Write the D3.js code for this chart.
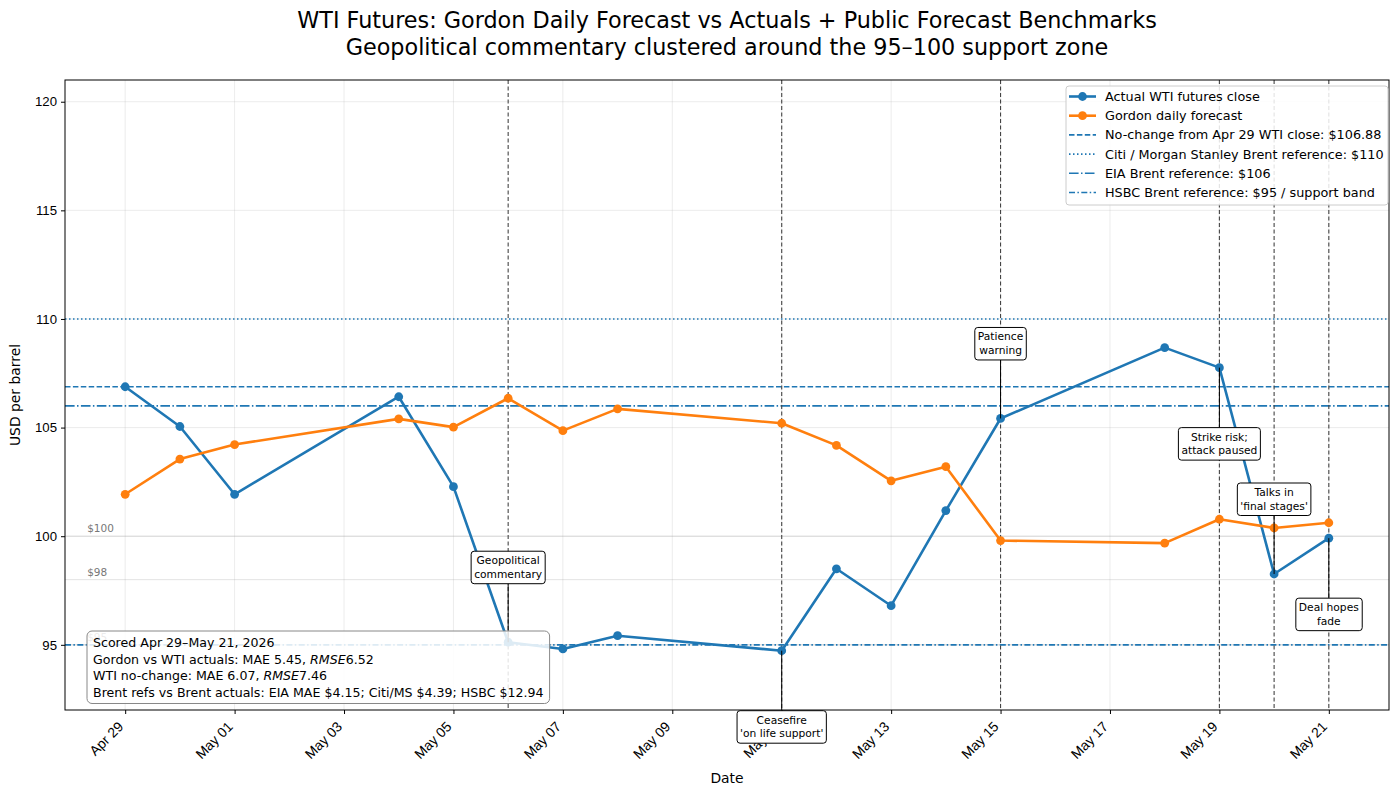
<!DOCTYPE html>
<html>
<head>
<meta charset="utf-8">
<script src="https://cdn.jsdelivr.net/npm/d3@7"></script>
<style>
  body { margin: 0; background: #fff; }
  svg { font-family: "DejaVu Sans", sans-serif; }
</style>
</head>
<body>
<svg id="chart" width="1400" height="795"></svg>
<script>
// trading days scored
const dates = ["2026-04-29","2026-04-30","2026-05-01","2026-05-04","2026-05-05","2026-05-06",
  "2026-05-07","2026-05-08","2026-05-11","2026-05-12","2026-05-13","2026-05-14","2026-05-15",
  "2026-05-18","2026-05-19","2026-05-20","2026-05-21"];

const actual = [106.88, 105.05, 101.93, 106.42, 102.28, 95.12, 94.81, 95.42, 94.73,
  98.50, 96.80, 101.18, 105.42, 108.68, 107.76, 98.26, 99.91];

const forecast = [101.93, 103.55, 104.22, 105.40, 105.02, 106.35, 104.86, 105.86, 105.20,
  104.18, 102.55, 103.20, 99.80, 99.68, 100.78, 100.38, 100.62];

const refLines = [
  {label: "No-change from Apr 29 WTI close: $106.88", value: 106.88, dash: "5.5,2.4"},
  {label: "Citi / Morgan Stanley Brent reference: $110", value: 110, dash: "1.5,2.5"},
  {label: "EIA Brent reference: $106", value: 106, dash: "9.6,2.4,1.5,2.4"},
  {label: "HSBC Brent reference: $95 / support band", value: 95, dash: "6,2.4,1.5,2.4"}
];

const bandLevels = [100, 98, 95];

const events = [
  {date: "2026-05-06", label: ["Geopolitical", "commentary"]},
  {date: "2026-05-11", label: ["Ceasefire", "'on life support'"]},
  {date: "2026-05-15", label: ["Patience", "warning"]},
  {date: "2026-05-19", label: ["Strike risk;", "attack paused"]},
  {date: "2026-05-20", label: ["Talks in", "'final stages'"]},
  {date: "2026-05-21", label: ["Deal hopes", "fade"]}
];

const xTicks = ["2026-04-29","2026-05-01","2026-05-03","2026-05-05","2026-05-07","2026-05-09",
  "2026-05-11","2026-05-13","2026-05-15","2026-05-17","2026-05-19","2026-05-21"];
const yTicks = [95, 100, 105, 110, 115, 120];

const scoreLines = [
  [["Scored Apr 29\u2013May 21, 2026", false]],
  [["Gordon vs WTI actuals: MAE 5.45, ", false], ["RMSE", true], ["6.52", false]],
  [["WTI no-change: MAE 6.07, ", false], ["RMSE", true], ["7.46", false]],
  [["Brent refs vs Brent actuals: EIA MAE $4.15; Citi/MS $4.39; HSBC $12.94", false]]
];

const parse = d3.utcParse("%Y-%m-%d");
const series = dates.map((d, i) => ({date: parse(d), actual: actual[i], forecast: forecast[i]}));
const blue = "#1f77b4", orange = "#ff7f0e";

const svg = d3.select("#chart"),
      margin = {top: 80, right: 11, bottom: 85, left: 65},
      width = +svg.attr("width") - margin.left - margin.right,
      height = +svg.attr("height") - margin.top - margin.bottom;

const day = 864e5;
const x = d3.scaleUtc()
  .domain([new Date(+parse(dates[0]) - 1.1 * day), new Date(+parse(dates[dates.length - 1]) + 1.1 * day)])
  .range([margin.left, margin.left + width]);
const y = d3.scaleLinear()
  .domain([92, 121])
  .range([margin.top + height, margin.top]);

const g = svg.append("g");

// grid
g.append("g").selectAll("line").data(xTicks).enter().append("line")
  .attr("x1", d => x(parse(d))).attr("x2", d => x(parse(d)))
  .attr("y1", margin.top).attr("y2", margin.top + height)
  .attr("stroke", "#b0b0b0").attr("stroke-opacity", 0.3).attr("stroke-width", 0.8);
g.append("g").selectAll("line").data(yTicks).enter().append("line")
  .attr("x1", margin.left).attr("x2", margin.left + width)
  .attr("y1", d => y(d)).attr("y2", d => y(d))
  .attr("stroke", "#b0b0b0").attr("stroke-opacity", 0.3).attr("stroke-width", 0.8);

// support band guides
g.append("g").selectAll("line").data(bandLevels).enter().append("line")
  .attr("x1", margin.left).attr("x2", margin.left + width)
  .attr("y1", d => y(d)).attr("y2", d => y(d))
  .attr("stroke", "#999").attr("stroke-opacity", 0.35).attr("stroke-width", 0.8);
g.append("g").selectAll("text").data(bandLevels).enter().append("text")
  .attr("x", x(parse(dates[0])) - 38)
  .attr("y", d => y(d) - 4)
  .attr("fill", "#777")
  .style("font-size", "10.5px")
  .text(d => "$" + d);

// benchmark lines
g.append("g").selectAll("line").data(refLines).enter().append("line")
  .attr("x1", margin.left).attr("x2", margin.left + width)
  .attr("y1", d => y(d.value)).attr("y2", d => y(d.value))
  .attr("stroke", blue).attr("stroke-width", 1.6)
  .attr("stroke-dasharray", d => d.dash);

// event markers
g.append("g").selectAll("line").data(events).enter().append("line")
  .attr("x1", d => x(parse(d.date))).attr("x2", d => x(parse(d.date)))
  .attr("y1", margin.top).attr("y2", margin.top + height)
  .attr("stroke", "#444").attr("stroke-width", 1.1)
  .attr("stroke-dasharray", "4,2.5");

// series
const line = key => d3.line().x(d => x(d.date)).y(d => y(d[key]));
[["actual", blue], ["forecast", orange]].forEach(([key, color]) => {
  g.append("path").datum(series)
    .attr("fill", "none").attr("stroke", color).attr("stroke-width", 2.6)
    .attr("stroke-linejoin", "round")
    .attr("d", line(key));
  g.append("g").selectAll("circle").data(series).enter().append("circle")
    .attr("cx", d => x(d.date)).attr("cy", d => y(d[key]))
    .attr("r", 4.4).attr("fill", color);
});

// annotations
const byDate = new Map(series.map(d => [+d.date, d]));
const ann = g.append("g");
events.forEach((ev, i) => {
  const pt = byDate.get(+parse(ev.date));
  const px = x(pt.date), py = y(pt.actual);
  const off = i % 2 === 0 ? -75 : 76;
  const cy = py + off;
  const lh = 13.5;
  const grp = ann.append("g");
  const txt = grp.append("text")
    .attr("text-anchor", "middle")
    .style("font-size", "10.7px");
  ev.label.forEach((s, j) => {
    txt.append("tspan").attr("x", px).attr("y", cy + (j - 0.5) * lh).attr("dy", "0.35em").text(s);
  });
  const bb = txt.node().getBBox();
  const pad = 3;
  const boxTop = bb.y - pad, boxBot = bb.y + bb.height + pad;
  grp.insert("line", "text")
    .attr("x1", px).attr("x2", px)
    .attr("y1", py).attr("y2", off < 0 ? boxBot : boxTop)
    .attr("stroke", "#000").attr("stroke-width", 1);
  grp.insert("rect", "text")
    .attr("x", bb.x - pad).attr("y", boxTop)
    .attr("width", bb.width + 2 * pad).attr("height", boxBot - boxTop)
    .attr("rx", 3)
    .attr("fill", "#fff").attr("stroke", "#000").attr("stroke-width", 1);
});

// axes frame
svg.append("rect")
  .attr("x", margin.left).attr("y", margin.top)
  .attr("width", width).attr("height", height)
  .attr("fill", "none").attr("stroke", "#000").attr("stroke-width", 1);

const xAxis = svg.append("g").attr("transform", `translate(0,${margin.top + height})`)
  .call(d3.axisBottom(x).tickValues(xTicks.map(parse)).tickFormat(d3.utcFormat("%b %d")).tickSize(4));
xAxis.select(".domain").remove();
xAxis.selectAll("text")
  .style("font-size", "13.9px")
  .attr("fill", "#000")
  .attr("text-anchor", "end")
  .attr("dominant-baseline", "central")
  .attr("y", 0).attr("dy", 0)
  .attr("transform", "translate(-5,14) rotate(-45)");

const yAxis = svg.append("g").attr("transform", `translate(${margin.left},0)`)
  .call(d3.axisLeft(y).tickValues(yTicks).tickSize(4).tickPadding(4));
yAxis.select(".domain").remove();
yAxis.selectAll("text").style("font-size", "13.2px").attr("fill", "#000");

// annotation boxes sitting below the axis must sit above the tick labels
svg.node().appendChild(ann.node());

// score box
const sb = svg.append("g");
const sbText = sb.append("text").style("font-size", "12.6px");
scoreLines.forEach((parts, i) => {
  const t = sbText.append("tspan").attr("x", 93).attr("y", 647 + i * 16.5);
  parts.forEach(([s, it], k) => {
    const ts = k === 0 ? t : sbText.append("tspan");
    ts.text(s);
    if (it) ts.style("font-style", "italic");
  });
});
const sbb = sbText.node().getBBox();
sb.insert("rect", "text")
  .attr("x", 87).attr("y", sbb.y - 4)
  .attr("width", sbb.width + 12).attr("height", sbb.height + 8)
  .attr("rx", 5)
  .attr("fill", "#fff").attr("fill-opacity", 0.85)
  .attr("stroke", "#888").attr("stroke-width", 1);

// legend
const legendItems = [
  {label: "Actual WTI futures close", color: blue, marker: true, dash: null, w: 2.6},
  {label: "Gordon daily forecast", color: orange, marker: true, dash: null, w: 2.6}
].concat(refLines.map(r => ({label: r.label, color: blue, marker: false, dash: r.dash, w: 1.6})));

const lg = svg.append("g");
lg.append("rect")
  .attr("x", 1066).attr("y", 86).attr("width", 322).attr("height", 119)
  .attr("rx", 3)
  .attr("fill", "#fff").attr("fill-opacity", 0.85)
  .attr("stroke", "#ccc");
legendItems.forEach((d, i) => {
  const yy = 96.5 + i * 19.2;
  lg.append("line")
    .attr("x1", 1069).attr("x2", 1096).attr("y1", yy).attr("y2", yy)
    .attr("stroke", d.color).attr("stroke-width", d.w)
    .attr("stroke-dasharray", d.dash);
  if (d.marker) lg.append("circle").attr("cx", 1082.5).attr("cy", yy).attr("r", 4.4).attr("fill", d.color);
  lg.append("text").attr("x", 1105).attr("y", yy).attr("dy", "0.35em")
    .style("font-size", "12.8px").text(d.label);
});

// titles and labels
svg.append("text").attr("x", 727).attr("y", 28).attr("text-anchor", "middle")
  .style("font-size", "22.3px").text("WTI Futures: Gordon Daily Forecast vs Actuals + Public Forecast Benchmarks");
svg.append("text").attr("x", 727).attr("y", 55).attr("text-anchor", "middle")
  .style("font-size", "22.3px").text("Geopolitical commentary clustered around the 95\u2013100 support zone");
svg.append("text").attr("x", margin.left + width / 2).attr("y", 783).attr("text-anchor", "middle")
  .style("font-size", "13.9px").text("Date");
svg.append("text").attr("transform", `translate(20,${margin.top + height / 2}) rotate(-90)`)
  .attr("text-anchor", "middle").style("font-size", "13.9px").text("USD per barrel");
</script>
</body>
</html>
